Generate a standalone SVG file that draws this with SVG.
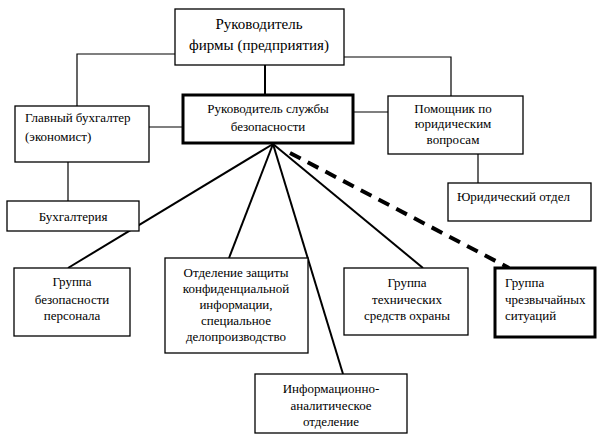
<svg xmlns="http://www.w3.org/2000/svg" width="602" height="435" viewBox="0 0 602 435">
<defs>
<style>
.box{fill:#fff;stroke:#000;stroke-width:1.3}
.thick{fill:#fff;stroke:#000;stroke-width:3}
.c{text-anchor:middle}
.thin{stroke:#000;stroke-width:1.2;fill:none}
.fan{stroke:#000;stroke-width:2;fill:none}
.dash{stroke:#000;stroke-width:4;fill:none;stroke-dasharray:12 8}
</style>
</defs>
<rect width="602" height="435" fill="#fff"/>
<g id="connectors">
<polyline class="thin" points="175,54 77,54 77,106"/>
<polyline class="thin" points="344,57 451,57 451,96"/>
<line class="fan" x1="265" y1="65" x2="265" y2="95"/>
<line class="thin" x1="149" y1="127" x2="183" y2="127"/>
<line class="thin" x1="353" y1="112" x2="388" y2="112"/>
<line class="thin" x1="478" y1="154" x2="478" y2="183"/>
<line class="thin" x1="68" y1="162" x2="68" y2="201"/>
<line class="fan" x1="273" y1="144" x2="68" y2="268"/>
<line class="fan" x1="273" y1="144" x2="229" y2="258"/>
<line class="fan" x1="273" y1="144" x2="343" y2="374"/>
<line class="fan" x1="273" y1="144" x2="423" y2="268"/>
<line class="dash" x1="290" y1="153" x2="509" y2="268"/>
</g>
<g id="n-top"><rect class="box" x="175" y="9" width="169" height="56"/>
<text class="c" x="259" y="29" font-family="Liberation Serif" font-size="15">Руководитель</text>
<text class="c" x="259" y="50" font-family="Liberation Serif" font-size="15">фирмы (предприятия)</text></g>
<g id="n-security"><rect class="thick" x="183" y="95" width="170" height="48"/>
<text class="c" x="268" y="113" font-family="Liberation Serif" font-size="13">Руководитель службы</text>
<text class="c" x="268" y="131" font-family="Liberation Serif" font-size="13">безопасности</text></g>
<g id="n-accountant"><rect class="box" x="15" y="106" width="134" height="56"/>
<text x="25" y="122" font-family="Liberation Serif" font-size="13">Главный бухгалтер</text>
<text x="25" y="141" font-family="Liberation Serif" font-size="13">(экономист)</text></g>
<g id="n-legal-assistant"><rect class="box" x="388" y="96" width="135" height="58"/>
<text class="c" x="453" y="113" font-family="Liberation Serif" font-size="13">Помощник по</text>
<text class="c" x="453" y="128" font-family="Liberation Serif" font-size="13">юридическим</text>
<text class="c" x="453" y="144" font-family="Liberation Serif" font-size="13">вопросам</text></g>
<g id="n-legal"><rect class="box" x="448" y="183" width="143" height="38"/>
<text x="457" y="201" font-family="Liberation Serif" font-size="13">Юридический отдел</text></g>
<g id="n-accounting"><rect class="box" x="7" y="201" width="132" height="30"/>
<text class="c" x="73" y="221" font-family="Liberation Serif" font-size="13">Бухгалтерия</text></g>
<g id="n-personnel"><rect class="box" x="14" y="268" width="116" height="68"/>
<text class="c" x="72" y="286" font-family="Liberation Serif" font-size="13">Группа</text>
<text class="c" x="72" y="304" font-family="Liberation Serif" font-size="13">безопасности</text>
<text class="c" x="72" y="320" font-family="Liberation Serif" font-size="13">персонала</text></g>
<g id="n-confidential"><rect class="box" x="165" y="258" width="143" height="95"/>
<text class="c" x="236" y="277" font-family="Liberation Serif" font-size="13">Отделение защиты</text>
<text class="c" x="236" y="293" font-family="Liberation Serif" font-size="13">конфиденциальной</text>
<text class="c" x="236" y="309" font-family="Liberation Serif" font-size="13">информации,</text>
<text class="c" x="236" y="325" font-family="Liberation Serif" font-size="13">специальное</text>
<text class="c" x="236" y="341" font-family="Liberation Serif" font-size="13">делопроизводство</text></g>
<g id="n-analytics"><rect class="box" x="255" y="374" width="152" height="59"/>
<text class="c" x="331" y="393" font-family="Liberation Serif" font-size="13">Информационно-</text>
<text class="c" x="331" y="410" font-family="Liberation Serif" font-size="13">аналитическое</text>
<text class="c" x="331" y="426" font-family="Liberation Serif" font-size="13">отделение</text></g>
<g id="n-technical"><rect class="box" x="344" y="268" width="124" height="67"/>
<text class="c" x="407" y="287" font-family="Liberation Serif" font-size="13">Группа</text>
<text class="c" x="407" y="304" font-family="Liberation Serif" font-size="13">технических</text>
<text class="c" x="407" y="320" font-family="Liberation Serif" font-size="13">средств охраны</text></g>
<g id="n-emergency"><rect class="thick" x="495" y="268" width="100" height="69"/>
<text x="505" y="287" font-family="Liberation Serif" font-size="13">Группа</text>
<text x="505" y="304" font-family="Liberation Serif" font-size="13">чрезвычайных</text>
<text x="505" y="320" font-family="Liberation Serif" font-size="13">ситуаций</text></g>
</svg>
